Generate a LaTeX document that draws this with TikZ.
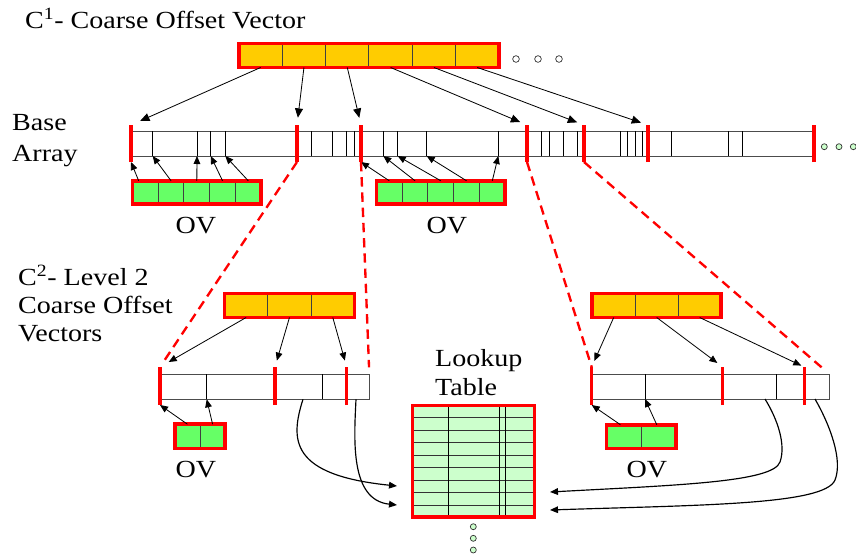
\documentclass[tikz,border=0pt]{standalone}
\usepackage{fontspec}
\setmainfont[FakeStretch=1.14]{Liberation Serif}
\usetikzlibrary{arrows.meta,calc}
\definecolor{cofill}{HTML}{FFCC00}
\definecolor{ovfill}{HTML}{66FF66}
\definecolor{lutfill}{HTML}{CCFFCC}
\tikzset{
  lbl/.style={font=\fontsize{21}{25}\selectfont,inner sep=0},
  cell/.style={draw=black!75,line width=0.8pt,inner sep=0,outer sep=0},
  redbox/.style={draw=red,line width=3.3pt},
  arr/.style={draw=black!70,line width=0.8pt,inner sep=0,outer sep=0},
  divline/.style={line width=0.8pt},
  redtick/.style={red,line width=2.8pt},
  zoomline/.style={red,line width=2pt,dash pattern=on 8pt off 5pt},
  ptr/.style={-{Triangle[length=0.24cm,width=0.2cm]},line width=0.7pt},
  bigptr/.style={-{Triangle[length=0.28cm,width=0.24cm]},line width=0.7pt},
  dotc/.style={draw=black!80,line width=0.6pt,fill=#1},
}
\begin{document}
\begin{tikzpicture}[x=0.03cm,y=-0.03cm]
  \useasboundingbox (0,0) rectangle (856,554);
  % level 1 coarse offset vector
  \node[lbl,anchor=base west] (c1lbl) at (25,28.3) {C\textsuperscript{1}- Coarse Offset Vector};
  \foreach \i in {1,...,6}
    \node[cell,fill=cofill,minimum width=43.33*0.03cm,minimum height=24*0.03cm] (co\i) at (217.3+43.33*\i,55.5) {};
  \draw[redbox] (co1.north west) rectangle (co6.south east);
  \foreach \x in {516,538,559} \draw[dotc=white] (\x,59) circle (0.1cm);
  % base array
  \node[lbl,anchor=base west] (base1) at (12,130.7) {Base};
  \node[lbl,anchor=base west] (base2) at (12,161) {Array};
  \node[arr,minimum width=683*0.03cm,minimum height=25*0.03cm] (barr) at (472.5,143.5) {};
  \foreach \x [count=\k] in {152.7,197,210.7,225.3,311.7,332.7,346.7,354.3,383.3,397.7,426.7,498.3,541.7,549,563.3,577.7,620.7,627.7,635,642.3,671,728.7,742.7}
    {\coordinate (d\k) at (\x,156); \draw[divline] (d\k) -- ++(0,-25);}
  \foreach \x [count=\k] in {131,297,361,527,584,648,814}
    {\coordinate (m\k) at (\x,162); \coordinate (mt\k) at (\x,125); \draw[redtick] (m\k) -- (mt\k);}
  \foreach \x in {824.3,839,853.3} \draw[dotc=lutfill] (\x,146.7) circle (0.09cm);
  \draw[bigptr,shorten >=0.3cm] (co1.south) -- (mt1);
  \foreach \i in {2,...,6} \draw[bigptr,shorten >=0.22cm] (co\i.south) -- (mt\i);
  % offset vectors of the base array
  \foreach \i in {1,...,5}
    {\node[cell,fill=ovfill,minimum width=25.74*0.03cm,minimum height=23.4*0.03cm] (g\i) at (119.6+25.74*\i,192.5) {};
     \node[cell,fill=ovfill,minimum width=25.74*0.03cm,minimum height=23.4*0.03cm] (h\i) at (363.6+25.74*\i,192.5) {};}
  \draw[redbox] (g1.north west) rectangle (g5.south east);
  \draw[redbox] (h1.north west) rectangle (h5.south east);
  \node[lbl,anchor=base] (ov1) at (196,233) {OV};
  \node[lbl,anchor=base] (ov2) at (447,233) {OV};
  \draw[ptr] ([xshift=-0.2cm]g1.north) -- (m1);
  \foreach \i/\j in {2/1,3/2,4/3,5/4} \draw[ptr] (g\i.north) -- (d\j);
  \draw[ptr] (h1.north) -- (m3);
  \foreach \i/\j in {2/9,3/10,4/11,5/12} \draw[ptr] (h\i.north) -- (d\j);
  % level 2 label
  \node[lbl,anchor=base west] (l2a) at (18,285) {C\textsuperscript{2}- Level 2};
  \node[lbl,anchor=base west] (l2b) at (18,313.3) {Coarse Offset};
  \node[lbl,anchor=base west] (l2c) at (18,341.7) {Vectors};
  % left level 2 block
  \foreach \i in {1,2,3}
    \node[cell,fill=cofill,minimum width=43.33*0.03cm,minimum height=24*0.03cm] (lc\i) at (202.8+43.33*\i,305.5) {};
  \draw[redbox] (lc1.north west) rectangle (lc3.south east);
  \node[arr,minimum width=209.3*0.03cm,minimum height=25.3*0.03cm] (la) at (264.65,386.65) {};
  \foreach \x [count=\k] in {206.7,322.7}
    {\coordinate (ld\k) at (\x,399.3); \draw[divline] (ld\k) -- ++(0,-25.3);}
  \foreach \x [count=\k] in {160,275,346.7}
    {\coordinate (p\k) at (\x,405); \coordinate (pt\k) at (\x,367); \draw[redtick] (p\k) -- (pt\k);}
  \draw[ptr,shorten >=0.3cm] (lc1.south) -- (pt1);
  \draw[ptr,shorten >=0.2cm] (lc2.south) -- (pt2);
  \draw[ptr,shorten >=0.2cm] (lc3.south) -- (pt3);
  \foreach \i in {1,2}
    \node[cell,fill=ovfill,minimum width=25.2*0.03cm,minimum height=24.3*0.03cm] (lg\i) at (162.2+25.2*\i,436.35) {};
  \draw[redbox] (lg1.north west) rectangle (lg2.south east);
  \draw[ptr] (lg1.north) -- (p1);
  \draw[ptr] (lg2.north) -- (ld1);
  \node[lbl,anchor=base] (ov3) at (196,477) {OV};
  % right level 2 block
  \foreach \i in {1,2,3}
    \node[cell,fill=cofill,minimum width=43*0.03cm,minimum height=24*0.03cm] (rc\i) at (570.7+43*\i,305.5) {};
  \draw[redbox] (rc1.north west) rectangle (rc3.south east);
  \node[arr,minimum width=236.6*0.03cm,minimum height=25*0.03cm] (ra) at (711,386.5) {};
  \foreach \x [count=\k] in {645,776.7}
    {\coordinate (rd\k) at (\x,399); \draw[divline] (rd\k) -- ++(0,-25);}
  \foreach \x [count=\k] in {591.7,722.7,804.3}
    {\coordinate (q\k) at (\x,405); \coordinate (qt\k) at (\x,367); \draw[redtick] (q\k) -- (qt\k);}
  \draw[ptr,shorten >=0.2cm] (rc1.south) -- (qt1);
  \draw[ptr,shorten >=0.2cm] (rc2.south) -- (qt2);
  \draw[ptr,shorten >=0.1cm] (rc3.south) -- (qt3);
  \foreach \i in {1,2}
    \node[cell,fill=ovfill,minimum width=34.65*0.03cm,minimum height=23.7*0.03cm] (rg\i) at (589.15+34.65*\i,436.6) {};
  \draw[redbox] (rg1.north west) rectangle (rg2.south east);
  \draw[ptr] ([xshift=-0.1cm]rg1.north) -- (q1);
  \draw[ptr] ([xshift=-0.05cm]rg2.north) -- (rd1);
  \node[lbl,anchor=base] (ov4) at (647,477) {OV};
  % zoom lines from base array
  \draw[zoomline,shorten >=0.24cm] (m2) -- (pt1);
  \draw[zoomline,shorten >=0.2cm] (m3) -- (la.north east);
  \draw[zoomline] (m4) -- (qt1);
  \draw[zoomline,shorten >=0.25cm] (m5) -- (ra.north east);
  % lookup table
  \node[lbl,anchor=base west] (lk1) at (435,366) {Lookup};
  \node[lbl,anchor=base west] (lk2) at (435,395) {Table};
  \node[fill=lutfill,minimum width=122*0.03cm,minimum height=111.3*0.03cm,inner sep=0,outer sep=0] (lut) at (473.5,461.15) {};
  \foreach \y in {417.3,430,442.7,455,467.3,480,492.7,505.3} \draw[divline,black!80] (413,\y) -- (534,\y);
  \foreach \x in {448.3,499,505.7} \draw[divline] (\x,406) -- (\x,516);
  \draw[redbox] (lut.north west) rectangle (lut.south east);
  \foreach \y in {526.7,538.3,550} \draw[dotc=lutfill] (473.3,\y) circle (0.09cm);
  % pointers into the lookup table
  \coordinate (s1) at (303,399.3); \coordinate (s2) at (356,399.3);
  \coordinate (s3) at (765,399); \coordinate (s4) at (815,399);
  \coordinate (e1) at (397,486); \coordinate (e2) at (397,505);
  \coordinate (e3) at (550,492); \coordinate (e4) at (550,510);
  \draw[ptr,line width=1pt] (s1) .. controls (290,440) and (290,475) .. (e1);
  \draw[ptr,line width=1pt] (s2) .. controls (354,440) and (350,500) .. (e2);
  \draw[ptr,line width=1pt] (s3) .. controls (778,420) and (786,445) .. (780,462) .. controls (773,482) and (680,485) .. (e3);
  \draw[ptr,line width=1pt] (s4) .. controls (830,425) and (843,460) .. (835,480) .. controls (825,505) and (700,505) .. (e4);
\end{tikzpicture}
\end{document}
